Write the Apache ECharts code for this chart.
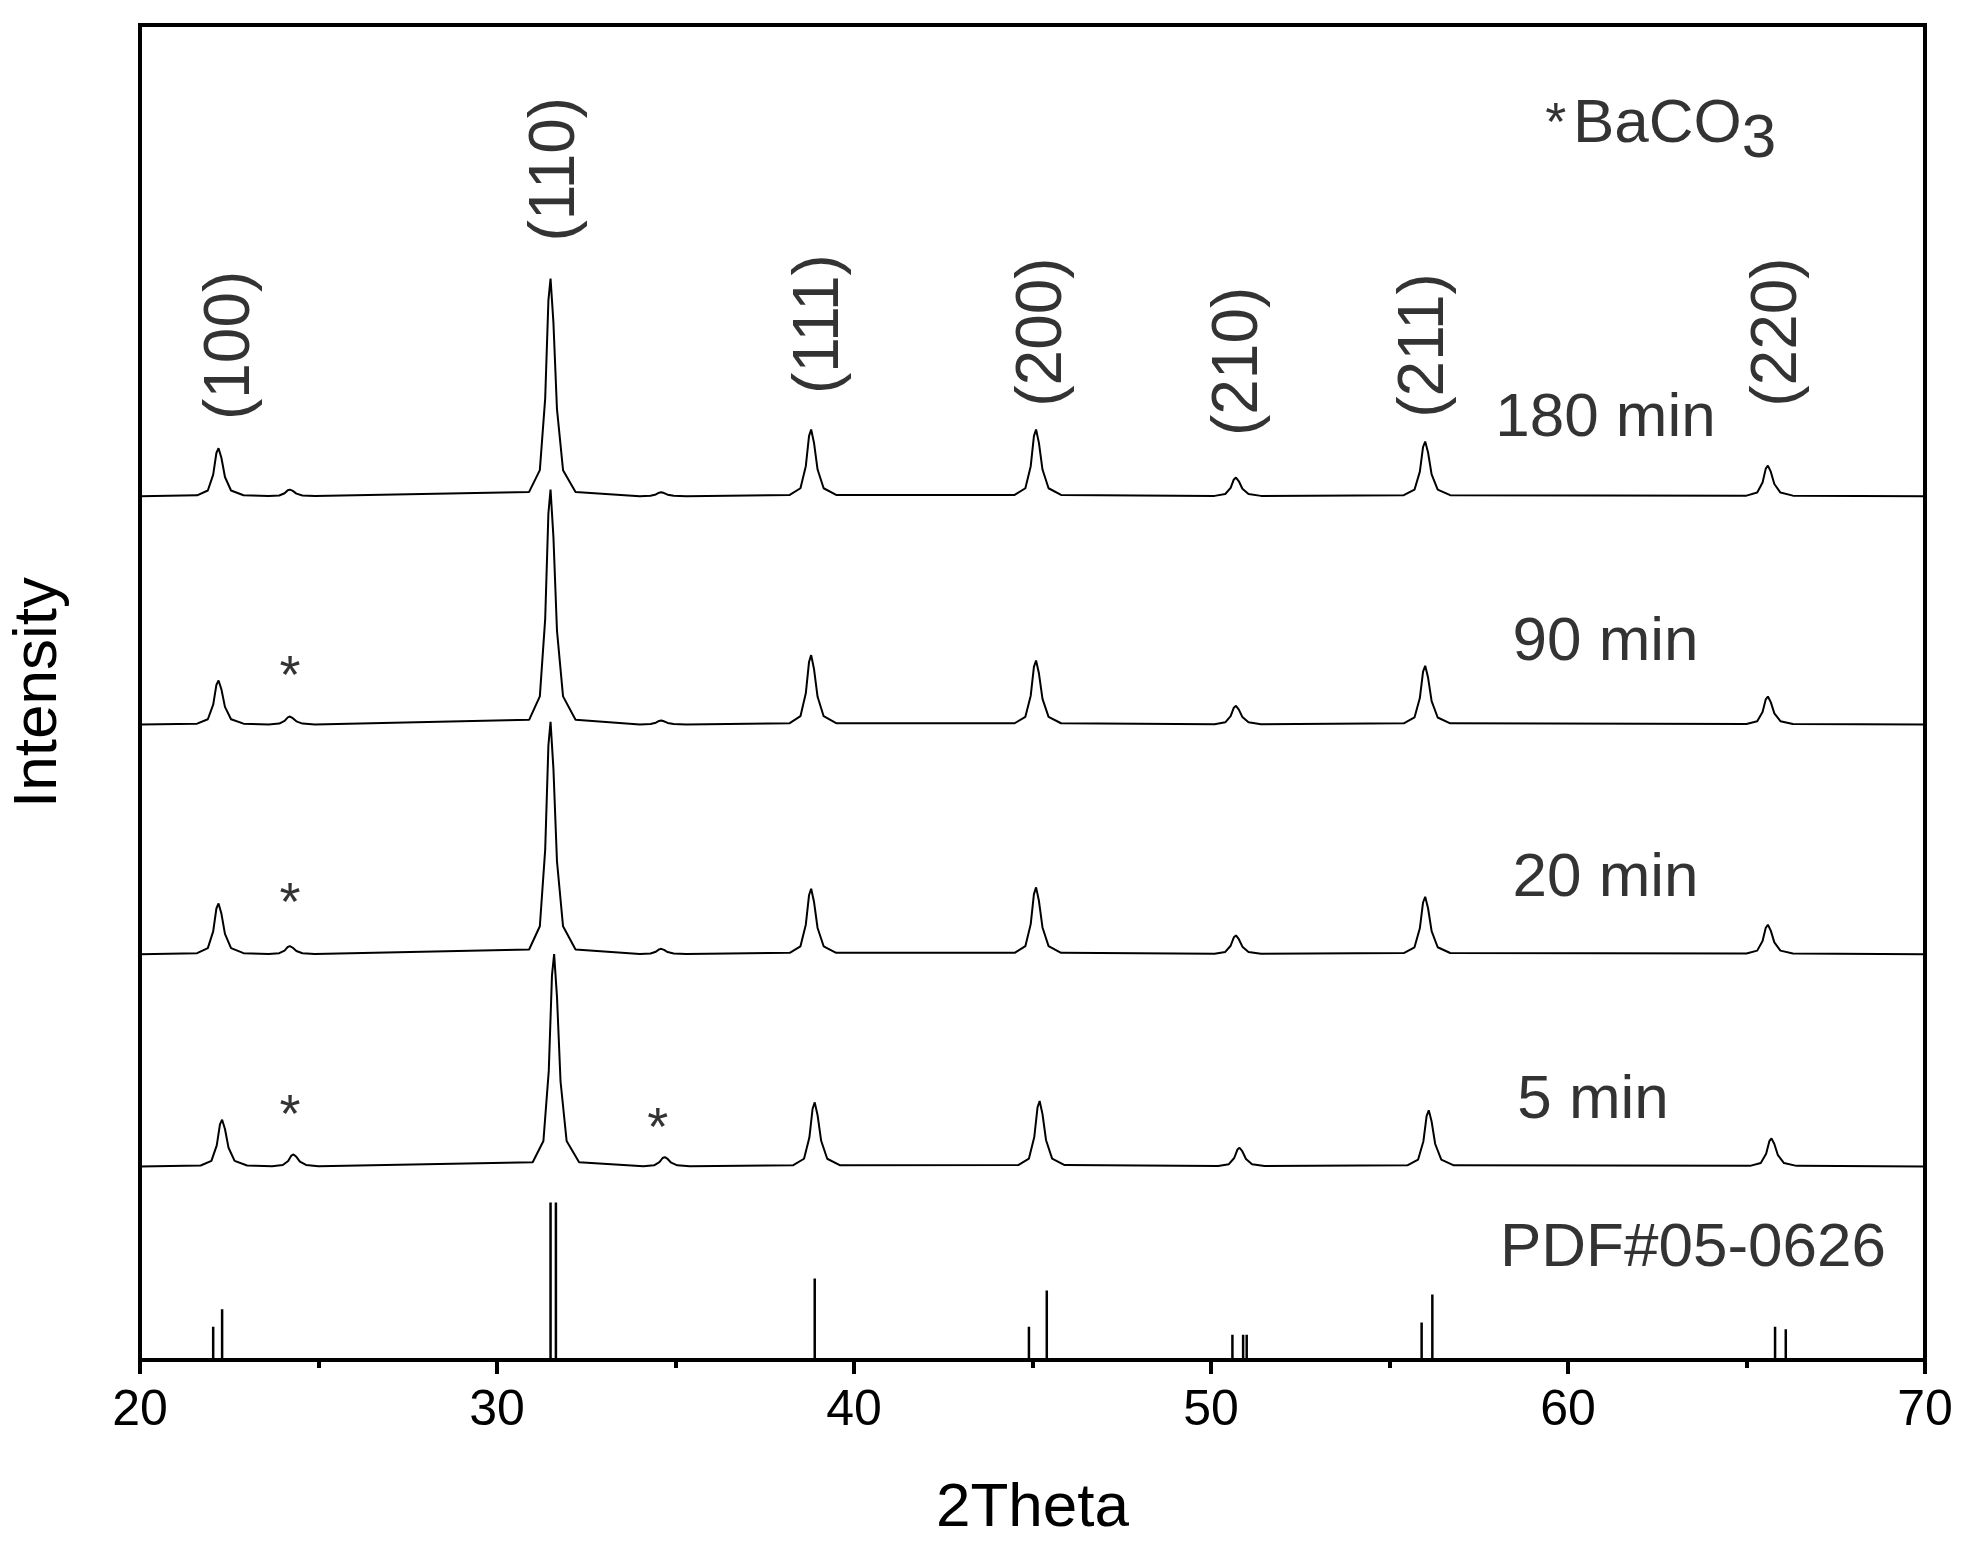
<!DOCTYPE html>
<html>
<head>
<meta charset="UTF-8" />
<script src="https://cdn.jsdelivr.net/npm/echarts@6/dist/echarts.min.js"></script>
<style>html,body{margin:0;background:#fff}</style>
</head>
<body>
<div id="main" style="width:1969px;height:1564px"></div>
<script>
// peak positions (2theta)
var peakPos = [22.2, 24.2, 31.5, 34.6, 38.8, 45.1, 50.7, 56.0, 65.6];
// peak heights (y units, 1 unit ~ 10.6 px)
var h180 = [3.6, 0.5, 16.3, 0.3, 5.0, 5.0, 1.4, 4.1, 2.3];
var h90 = [3.3, 0.6, 17.6, 0.3, 5.2, 4.8, 1.4, 4.4, 2.1];
var h20 = [3.8, 0.6, 17.4, 0.4, 4.9, 5.0, 1.4, 4.3, 2.2];
var h5 = [3.5, 0.9, 15.9, 0.7, 4.8, 4.9, 1.4, 4.2, 2.1];
var sampleNames = ["180 min", "90 min", "20 min", "5 min"];
var sampleBase = [64.7, 47.6, 30.4, 14.5];
// peak profile shape: [offset in 2theta, fraction of height]
var profile = [[-0.6, 0.02], [-0.3, 0.12], [-0.15, 0.45], [-0.06, 0.9], [0, 1], [0.08, 0.8], [0.18, 0.4], [0.35, 0.12], [0.7, 0.02]];
// PDF#05-0626 reference sticks [2theta, height]
var pdfSticks = [[22.05, 2.5], [22.3, 3.8], [31.5, 11.8], [31.65, 11.8], [38.9, 6.1], [44.9, 2.5], [45.4, 5.2],
  [50.6, 1.9], [50.9, 1.9], [51.0, 1.9], [55.9, 2.8], [56.2, 4.9], [65.8, 2.5], [66.1, 2.3]];
var hklLabels = [["(100)", 22.56, 76], ["(110)", 31.65, 89.2], ["(111)", 39.05, 77.6], ["(200)", 45.3, 77],
  ["(210)", 50.8, 74.8], ["(211)", 56.0, 76], ["(220)", 65.9, 77]];
var sampleLabelPos = [[61.05, 70.5], [61.05, 53.7], [61.05, 36], [60.7, 19.4]];
var starPos = [[24.2, 51.1], [24.2, 34.1], [24.2, 18.2], [34.5, 17.2]];

function buildCurve(heights, base, shift) {
  var pts = [[20, base]];
  peakPos.forEach(function (p, i) {
    profile.forEach(function (s) {
      pts.push([p + shift + s[0], base + heights[i] * s[1]]);
    });
  });
  pts.push([70, base]);
  return pts;
}

var FONT = "Liberation Sans, Arial";
var series = [];
[h180, h90, h20, h5].forEach(function (h, i) {
  series.push({
    type: "line", data: buildCurve(h, sampleBase[i], i === 3 ? 0.1 : 0),
    showSymbol: false, lineStyle: { color: "#000", width: 2 }, silent: true
  });
});
pdfSticks.forEach(function (s) {
  series.push({ type: "line", data: [[s[0], 0], [s[0], s[1]]], showSymbol: false,
    lineStyle: { color: "#000", width: 2.5 }, silent: true });
});
var txt = function (arr, style) {
  return { type: "scatter", symbolSize: 0, silent: true,
    data: arr.map(function (a) { return { value: [a[1], a[2]], name: a[0] }; }),
    label: Object.assign({ show: true, position: "inside", formatter: "{b}", color: "#000",
      fontFamily: FONT, fontSize: 60 }, style) };
};
series.push(txt(hklLabels, { rotate: 90, fontSize: 64 }));
series.push(txt(sampleNames.map(function (n, i) { return [n, sampleLabelPos[i][0], sampleLabelPos[i][1]]; }), { fontSize: 62 }));
series.push(txt([["PDF#05-0626", 63.5, 8.3]], { fontSize: 62 }));
series.push(txt(starPos.map(function (p) { return ["*", p[0], p[1]]; }), { fontSize: 54 }));
series.push({ type: "scatter", symbolSize: 0, silent: true, data: [[62.6, 92.5]],
  label: { show: true, position: "inside", color: "#000", fontFamily: FONT,
    formatter: "{s|*}  {t|BaCO}{sub|3}",
    rich: { s: { fontSize: 54, color: "#000", fontFamily: FONT }, t: { fontSize: 62, color: "#000", fontFamily: FONT },
      sub: { fontSize: 62, color: "#000", fontFamily: FONT, padding: [30, 0, 0, 0] } } } });

var chart = echarts.init(document.getElementById("main"));
chart.setOption({
  animation: false,
  grid: { left: 131, right: 44, top: 25, bottom: 204, show: true, borderColor: "#000", borderWidth: 4 },
  xAxis: {
    type: "value", min: 20, max: 70, interval: 10,
    name: "2Theta", nameLocation: "middle", nameGap: 118,
    nameTextStyle: { fontSize: 62, color: "#000", fontFamily: FONT },
    axisLine: { lineStyle: { color: "#000", width: 4 } },
    axisTick: { inside: false, length: 14, lineStyle: { color: "#000", width: 4 } },
    minorTick: { show: true, splitNumber: 2, length: 8, lineStyle: { color: "#000", width: 4 } },
    axisLabel: { fontSize: 50, color: "#000", margin: 26, fontFamily: FONT },
    splitLine: { show: false }
  },
  yAxis: {
    type: "value", min: 0, max: 100,
    name: "Intensity", nameLocation: "middle", nameGap: 70,
    nameTextStyle: { fontSize: 62, color: "#000", fontFamily: FONT },
    axisLine: { show: true, lineStyle: { color: "#000", width: 4 } },
    axisTick: { show: false }, axisLabel: { show: false }, splitLine: { show: false }
  },
  series: series
});
</script>
</body>
</html>
